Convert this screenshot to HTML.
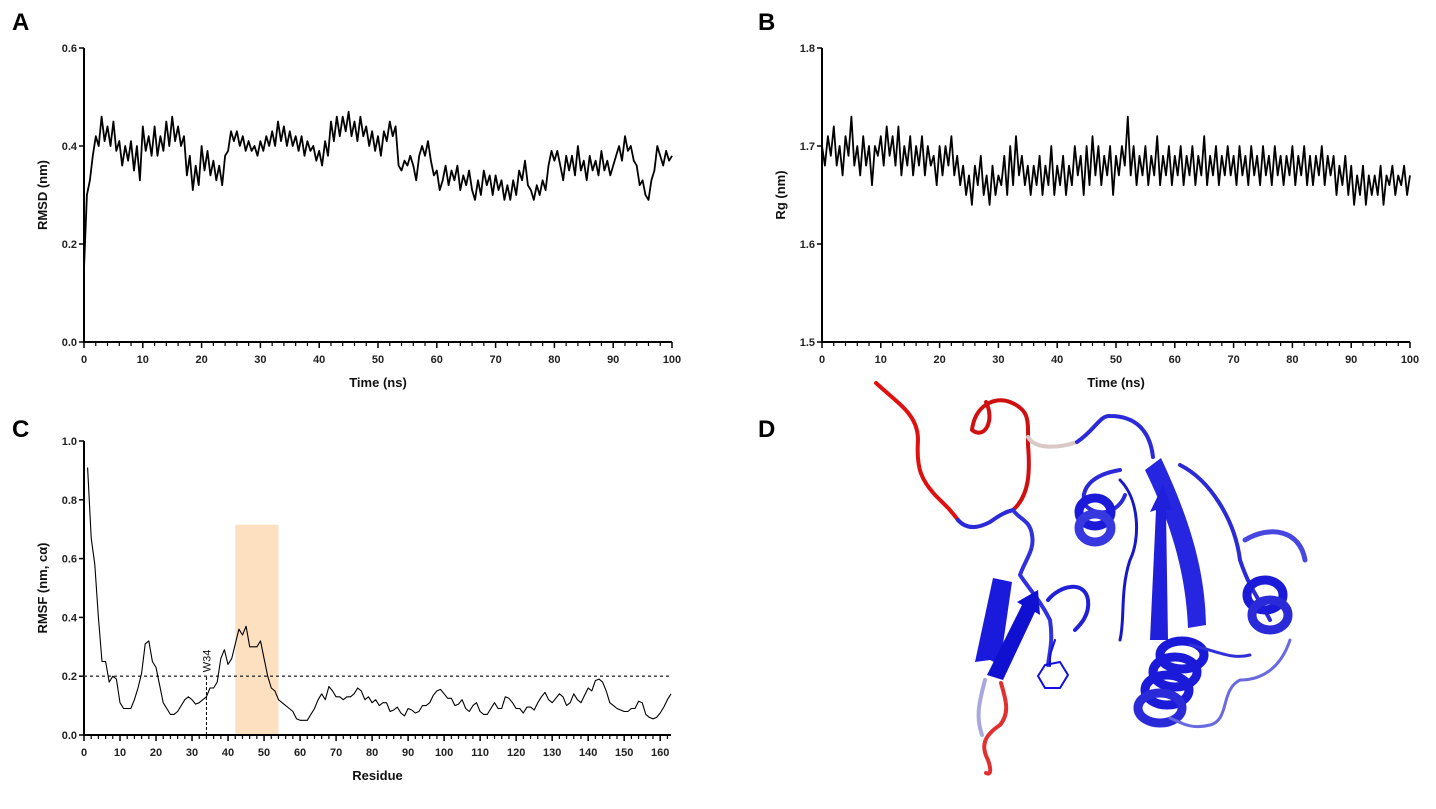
<!DOCTYPE html>
<html><head><meta charset="utf-8"><style>
body{margin:0;background:#fff;}
svg{display:block;font-family:"Liberation Sans",sans-serif;}
.tk{font-size:11px;font-weight:bold;fill:#222;}
.ttl{font-size:13px;font-weight:bold;fill:#111;}
.pl{font-size:24px;font-weight:bold;fill:#000;}
</style></head><body>
<svg id="fig" width="1436" height="809" viewBox="0 0 1436 809">
<text class="pl" x="12" y="30">A</text>
<text class="pl" x="758" y="30">B</text>
<text class="pl" x="12" y="437">C</text>
<text class="pl" x="758" y="437">D</text>
<g id="gA"></g>
<g id="gB"></g>
<g id="gC"></g>
<g id="gD" fill="none" stroke-linecap="round" stroke-linejoin="round">
 <path d="M876,383 C900,405 918,415 918,440 C916,470 922,480 935,495 C945,505 948,507 958,520" stroke="#e01010" stroke-width="4"/>
 <path d="M958,520 C965,528 975,530 990,522 C1000,515 1005,512 1013,510" stroke="#2a2ad8" stroke-width="4"/>
 <path d="M1013,510 C1030,495 1030,470 1028,445 C1028,420 1030,410 1010,402 C995,396 975,405 972,430 C985,440 995,420 986,402" stroke="#d01010" stroke-width="4"/>
 <path d="M1028,437 C1035,450 1060,448 1077,442" stroke="#d8c8c8" stroke-width="4"/>
 <path d="M1077,442 C1095,430 1100,415 1110,416 C1135,416 1150,430 1153,457" stroke="#2a2ad8" stroke-width="4"/>
 <path d="M1013,510 C1020,520 1030,520 1032,535 C1035,550 1025,560 1020,575 C1030,590 1040,600 1050,620 C1053,640 1050,650 1048,665" stroke="#3030e0" stroke-width="4"/>
 <polygon points="975,662 993,578 1012,582 1000,665 990,660" fill="#1a1add"/>
 <polygon points="987,675 1022,605 1017,602 1038,590 1040,615 1035,612 1003,680" fill="#1010d0"/>
 <path d="M1048,600 C1060,585 1085,580 1088,600 C1090,615 1080,625 1075,630" stroke="#2020d8" stroke-width="4"/>
 <path d="M1001,683 C1006,700 1010,713 1000,725 C985,735 980,745 988,760 C992,772 990,775 986,773" stroke="#e03030" stroke-width="4"/>
 <path d="M985,680 C980,700 975,715 982,735" stroke="#a8a8e0" stroke-width="4"/>
 <g stroke="#1010e0" stroke-width="2"><polygon points="1045,665 1060,662 1068,675 1060,688 1045,688 1038,676"/><line x1="1050" y1="655" x2="1050" y2="666"/><line x1="1055" y1="640" x2="1050" y2="655"/></g>
 <path d="M1161,458 C1190,520 1205,570 1206,625 L1188,628 C1186,575 1172,525 1145,470 Z" fill="#2626e0" stroke="none"/>
 <polygon points="1150,640 1156,510 1150,512 1163,485 1172,510 1166,510 1168,640" fill="#2020dc"/>
 <path d="M1180,465 C1210,480 1235,520 1240,560 C1250,590 1260,600 1270,620" stroke="#2a2ad8" stroke-width="4"/>
 <path d="M1120,470 C1090,475 1080,490 1085,505 C1100,520 1120,510 1125,495" stroke="#2a2ad8" stroke-width="4"/>
 <path d="M1120,480 C1140,500 1140,540 1130,560 C1120,590 1125,620 1120,640" stroke="#1818c8" stroke-width="3"/>
 <g fill="none" stroke="#1a1ad8" stroke-width="9">
  <ellipse cx="1095" cy="512" rx="16" ry="14"/><ellipse cx="1095" cy="528" rx="16" ry="14" stroke="#3838e0"/>
  <ellipse cx="1182" cy="655" rx="22" ry="14"/><ellipse cx="1175" cy="672" rx="22" ry="15"/><ellipse cx="1167" cy="690" rx="22" ry="15"/><ellipse cx="1160" cy="708" rx="22" ry="15" stroke="#2a2ad8"/>
  <ellipse cx="1265" cy="595" rx="18" ry="15"/><ellipse cx="1270" cy="615" rx="18" ry="15" stroke="#2a2ad8"/>
 </g>
 <path d="M1245,540 C1270,525 1300,530 1305,560" stroke="#4848e0" stroke-width="5"/>
 <path d="M1190,645 C1215,650 1230,660 1250,655" stroke="#3030d8" stroke-width="3"/>
 <path d="M1290,640 C1280,670 1260,680 1240,680 C1220,690 1230,720 1210,725 C1190,730 1180,722 1170,718" stroke="#6a6ae0" stroke-width="3"/>
</g>
</svg>
<script>
const rmsdTime0 = 0, rmsdStep = 0.5;
const rmsdValues = [0.15,0.30,0.33,0.38,0.42,0.40,0.46,0.41,0.44,0.40,0.45,0.39,0.41,0.36,0.40,0.37,0.41,0.35,0.40,0.33,
0.44,0.39,0.42,0.38,0.44,0.38,0.42,0.39,0.45,0.40,0.46,0.41,0.44,0.40,0.42,0.34,0.38,0.31,0.36,0.32,
0.40,0.35,0.39,0.34,0.37,0.33,0.36,0.32,0.38,0.39,0.43,0.41,0.43,0.40,0.42,0.39,0.41,0.39,0.40,0.38,
0.41,0.39,0.42,0.40,0.43,0.40,0.45,0.41,0.44,0.40,0.43,0.40,0.42,0.39,0.42,0.38,0.41,0.39,0.40,0.37,
0.39,0.36,0.41,0.38,0.45,0.41,0.46,0.42,0.46,0.43,0.47,0.42,0.45,0.41,0.46,0.42,0.44,0.40,0.43,0.39,
0.42,0.38,0.43,0.41,0.45,0.42,0.44,0.36,0.35,0.37,0.36,0.38,0.36,0.33,0.38,0.40,0.38,0.41,0.37,0.34,
0.35,0.31,0.33,0.36,0.32,0.35,0.33,0.36,0.31,0.34,0.32,0.35,0.31,0.29,0.33,0.30,0.35,0.32,0.34,0.30,
0.34,0.31,0.33,0.29,0.32,0.29,0.33,0.30,0.35,0.33,0.37,0.32,0.31,0.29,0.32,0.30,0.33,0.31,0.36,0.39,
0.37,0.39,0.36,0.33,0.38,0.35,0.38,0.34,0.40,0.35,0.37,0.33,0.38,0.35,0.37,0.34,0.39,0.35,0.37,0.34,
0.36,0.38,0.40,0.37,0.42,0.39,0.40,0.37,0.36,0.32,0.33,0.30,0.29,0.33,0.35,0.40,0.38,0.36,0.39,0.37,0.38];
const rgValues = [1.70,1.68,1.71,1.69,1.72,1.68,1.70,1.67,1.71,1.69,1.73,1.68,1.70,1.67,1.71,1.68,1.70,1.66,1.70,1.69,1.71,
1.68,1.72,1.69,1.71,1.68,1.72,1.67,1.70,1.68,1.71,1.67,1.70,1.68,1.71,1.67,1.70,1.68,1.69,1.66,1.70,
1.67,1.70,1.68,1.71,1.67,1.69,1.66,1.68,1.65,1.67,1.64,1.68,1.66,1.69,1.65,1.67,1.64,1.68,1.65,1.67,
1.66,1.69,1.65,1.70,1.66,1.71,1.67,1.69,1.66,1.68,1.65,1.68,1.66,1.69,1.65,1.68,1.66,1.70,1.65,1.68,
1.66,1.69,1.65,1.68,1.66,1.70,1.67,1.69,1.65,1.70,1.66,1.71,1.67,1.70,1.66,1.69,1.67,1.70,1.65,1.69,
1.67,1.70,1.68,1.73,1.67,1.70,1.66,1.69,1.67,1.70,1.66,1.69,1.67,1.71,1.66,1.69,1.67,1.70,1.66,1.69,
1.67,1.70,1.66,1.69,1.67,1.70,1.66,1.69,1.67,1.71,1.66,1.69,1.67,1.70,1.66,1.69,1.67,1.70,1.67,1.69,
1.66,1.70,1.67,1.69,1.66,1.70,1.67,1.69,1.66,1.70,1.67,1.69,1.66,1.70,1.67,1.69,1.66,1.69,1.67,1.70,
1.66,1.69,1.67,1.70,1.66,1.69,1.66,1.69,1.67,1.70,1.66,1.69,1.67,1.69,1.65,1.68,1.66,1.69,1.65,1.68,
1.64,1.67,1.65,1.68,1.64,1.67,1.65,1.67,1.65,1.68,1.64,1.67,1.66,1.68,1.65,1.67,1.66,1.68,1.65,1.67];
const timeTicks = [0,10,20,30,40,50,60,70,80,90,100];
const rmsdTicks = [0.0,0.2,0.4,0.6];
const rgTicks = [1.5,1.6,1.7,1.8];
const rmsfValues = [0.91,0.67,0.58,0.40,0.25,0.25,0.18,0.20,0.19,0.11,0.09,0.09,0.09,0.12,0.16,0.21,0.31,0.32,0.25,0.23,
0.17,0.11,0.09,0.07,0.07,0.08,0.10,0.12,0.13,0.12,0.105,0.11,0.12,0.13,0.16,0.16,0.18,0.26,0.29,0.24,
0.26,0.31,0.36,0.34,0.37,0.30,0.30,0.30,0.32,0.26,0.20,0.16,0.15,0.12,0.11,0.10,0.09,0.08,0.055,0.05,
0.05,0.05,0.07,0.09,0.12,0.14,0.12,0.165,0.15,0.13,0.13,0.12,0.13,0.13,0.14,0.16,0.15,0.12,0.13,0.11,
0.12,0.10,0.11,0.11,0.08,0.085,0.095,0.075,0.065,0.09,0.085,0.075,0.08,0.10,0.10,0.11,0.135,0.15,0.155,0.14,
0.125,0.125,0.10,0.105,0.12,0.09,0.08,0.10,0.11,0.08,0.07,0.07,0.09,0.11,0.09,0.09,0.13,0.125,0.11,0.09,
0.09,0.075,0.095,0.095,0.085,0.11,0.13,0.145,0.12,0.11,0.125,0.14,0.13,0.10,0.11,0.14,0.12,0.11,0.135,0.16,
0.15,0.185,0.19,0.18,0.15,0.11,0.10,0.09,0.085,0.08,0.08,0.09,0.09,0.115,0.11,0.07,0.06,0.055,0.06,0.075,0.095,0.12,0.14];
const residueTicks = [0,10,20,30,40,50,60,70,80,90,100,110,120,130,140,150,160];
const rmsfTicks = [0.0,0.2,0.4,0.6,0.8,1.0];
const rmsfThreshold = [0.2];
const highlightRange = [42,54];
const highlightTop = [0.715];
const markerResidue = [34];

const NS="http://www.w3.org/2000/svg";
function mk(parent,tag,attrs){const e=document.createElementNS(NS,tag);for(const k in attrs)e.setAttribute(k,attrs[k]);parent.appendChild(e);return e;}

function axes(g,o){
  const sx=v=>o.x0+(v-o.xmin)/(o.xmax-o.xmin)*(o.x1-o.x0);
  const sy=v=>o.y0-(v-o.ymin)/(o.ymax-o.ymin)*(o.y0-o.y1);
  const ax=mk(g,'path',{d:`M${o.x0},${o.y1}V${o.y0}H${o.x1}`,stroke:'#000','stroke-width':2,fill:'none'});
  
  
  for(let v=o.xmin;v<=o.xmax+1e-9;v+=o.minor){
    const isMaj=o.xt.some(t=>Math.abs(t-v)<1e-6);
    const t=mk(g,'line',{x1:sx(v),x2:sx(v),y1:o.y0,y2:o.y0+(isMaj?6:4),stroke:'#000','stroke-width':isMaj?1.5:1.2});
    
    
  }
  o.xt.forEach(v=>{const t=mk(g,'text',{x:sx(v),y:o.y0+21,'text-anchor':'middle',class:'tk'});t.textContent=v;
    
    });
  o.yt.forEach(v=>{mk(g,'line',{x1:o.x0-5,x2:o.x0,y1:sy(v),y2:sy(v),stroke:'#000','stroke-width':1.5});
    const t=mk(g,'text',{x:o.x0-7,y:sy(v)+4,'text-anchor':'end',class:'tk'});t.textContent=v.toFixed(1);
    
    });
  const xt=mk(g,'text',{x:(o.x0+o.x1)/2,y:o.y0+45,'text-anchor':'middle',class:'ttl'});xt.textContent=o.xl;
  
  
  const cy=(o.y0+o.y1)/2;
  const yt=mk(g,'text',{x:o.x0-37,y:cy,'text-anchor':'middle',class:'ttl',transform:`rotate(-90 ${o.x0-37} ${cy})`});yt.textContent=o.yl;
  
  
  return {sx,sy};
}
function line(g,xs,ys,sx,sy,w,name){
  const d=ys.map((v,i)=>(i?'L':'M')+sx(xs[i]).toFixed(1)+','+sy(v).toFixed(1)).join('');
  const p=mk(g,'path',{d,stroke:'#000','stroke-width':w,fill:'none','stroke-linejoin':'round'});
  
  
}
const gA=document.getElementById('gA');
const A=axes(gA,{x0:84,x1:672,y0:342,y1:48,xmin:0,xmax:100,ymin:0,ymax:0.6,xt:timeTicks,yt:rmsdTicks,minor:2,xl:'Time (ns)',yl:'RMSD (nm)'});
line(gA,rmsdValues.map((v,i)=>rmsdTime0+i*rmsdStep),rmsdValues,A.sx,A.sy,1.8,'rmsd-line');
const gB=document.getElementById('gB');
const B=axes(gB,{x0:822,x1:1410,y0:342,y1:48,xmin:0,xmax:100,ymin:1.5,ymax:1.8,xt:timeTicks,yt:rgTicks,minor:2,xl:'Time (ns)',yl:'Rg (nm)'});
line(gB,rgValues.map((v,i)=>i*0.5),rgValues,B.sx,B.sy,1.8,'rg-line');
const gC=document.getElementById('gC');
const Cx={x0:84,x1:671,y0:735,y1:441,xmin:0,xmax:163,ymin:0,ymax:1.0};
const sxc=v=>Cx.x0+(v-Cx.xmin)/(Cx.xmax-Cx.xmin)*(Cx.x1-Cx.x0);
const syc=v=>Cx.y0-(v-Cx.ymin)/(Cx.ymax-Cx.ymin)*(Cx.y0-Cx.y1);
const hr=mk(gC,'rect',{x:sxc(highlightRange[0]),y:syc(highlightTop[0]),width:sxc(highlightRange[1])-sxc(highlightRange[0]),height:syc(0)-syc(highlightTop[0]),fill:'#fde0c0'});


const C=axes(gC,{...Cx,xt:residueTicks,yt:rmsfTicks,minor:2,xl:'Residue',yl:'RMSF (nm, cα)'});
const th=mk(gC,'line',{x1:sxc(0),x2:sxc(163),y1:syc(rmsfThreshold[0]),y2:syc(rmsfThreshold[0]),stroke:'#333','stroke-width':1.3,'stroke-dasharray':'3,3'});


const ml=mk(gC,'line',{x1:sxc(markerResidue[0]),x2:sxc(markerResidue[0]),y1:syc(0),y2:syc(rmsfThreshold[0]),stroke:'#000','stroke-width':1,'stroke-dasharray':'3,2'});


const wx=sxc(markerResidue[0])+4, wy=syc(rmsfThreshold[0])-4;
const wl=mk(gC,'text',{x:wx,y:wy,transform:`rotate(-90 ${wx} ${wy})`,'font-size':'11',fill:'#111'});wl.textContent='W34';


line(gC,rmsfValues.map((v,i)=>i+1),rmsfValues,sxc,syc,1.1,'rmsf-line');
</script>
</body></html>
